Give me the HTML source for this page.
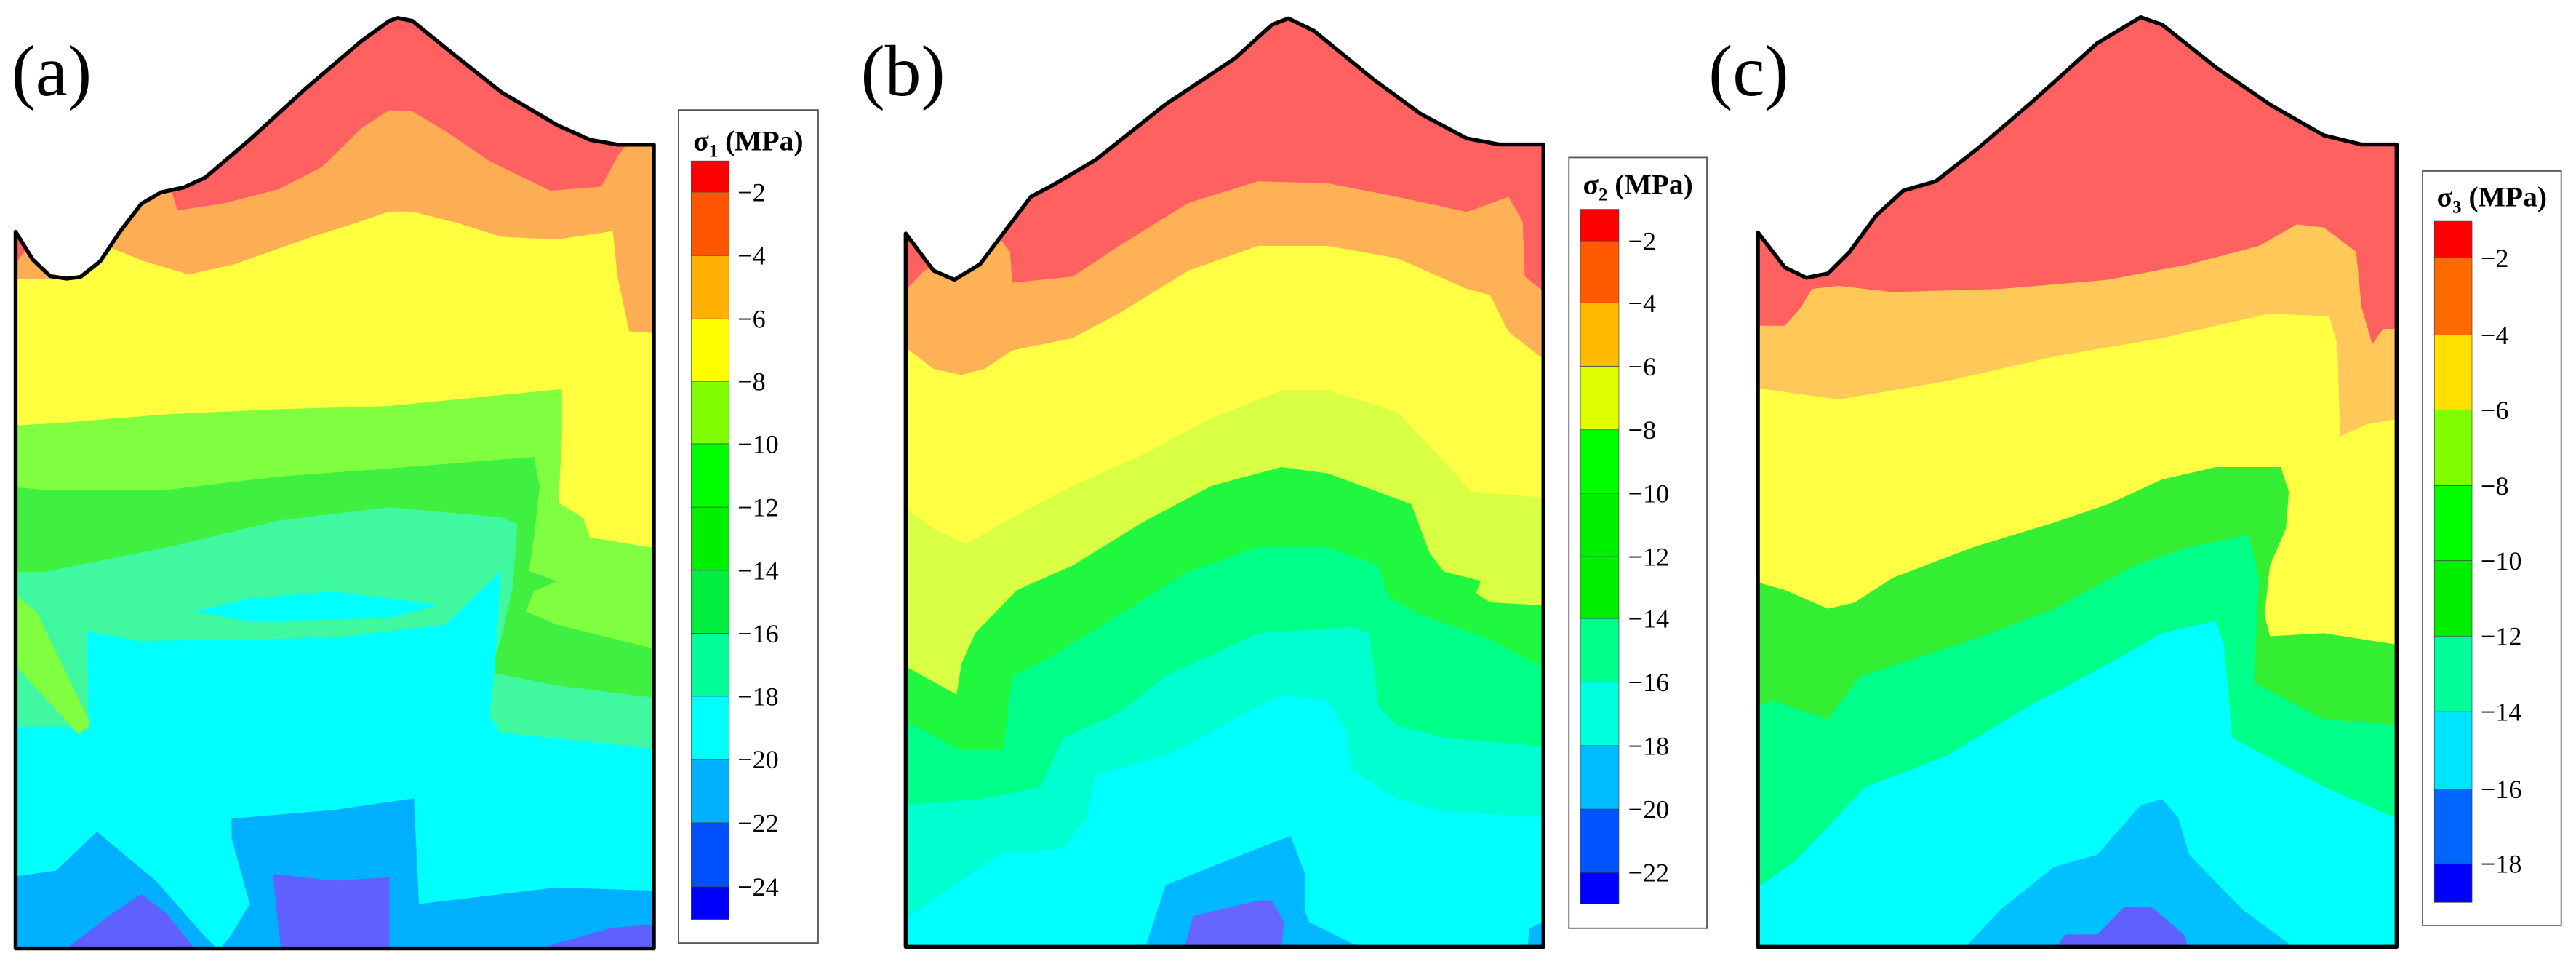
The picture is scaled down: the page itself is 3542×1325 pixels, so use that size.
<!DOCTYPE html>
<html><head><meta charset="utf-8"><style>
html,body{margin:0;padding:0;background:#fff;}
svg{display:block;}
text{font-family:"Liberation Serif",serif;fill:#000;}
</style></head><body>
<svg id="fig" xmlns="http://www.w3.org/2000/svg" width="3542" height="1325" viewBox="0 0 1568 586.5" preserveAspectRatio="none">
<defs id="defs"></defs>
<g id="root"></g>
</svg>
<script>
// ---- legend data ----
const ticksA = [-2,-4,-6,-8,-10,-12,-14,-16,-18,-20,-22,-24];
const ticksB = [-2,-4,-6,-8,-10,-12,-14,-16,-18,-20,-22];
const ticksC = [-2,-4,-6,-8,-10,-12,-14,-16,-18];
const barColorsA = ['#ff0000','#ff5500','#ffb000','#ffff00','#80ff00','#00ff00','#00f000','#00ee40','#00ff99','#00ffff','#00b0ff','#0050ff','#0000ff'];
const barColorsB = ['#ff0000','#ff5a00','#ffbb00','#ddff00','#00ff00','#00f000','#00ee00','#00ff88','#00ffdd','#00bbff','#0055ff','#0000ff'];
const barColorsC = ['#ff0000','#ff6a00','#ffe000','#80ff00','#00ff00','#00ee00','#00ff99','#00e5ff','#0066ff','#0000ff'];

const NS='http://www.w3.org/2000/svg';
const root=document.getElementById('root');
const defs=document.getElementById('defs');
function mk(tag,attrs,parent){const e=document.createElementNS(NS,tag);for(const k in attrs)e.setAttribute(k,attrs[k]);(parent||root).appendChild(e);return e;}
function pts(a){return a.map(p=>p[0].toFixed(1)+','+p[1].toFixed(1)).join(' ');}

// ---- panel geometry (traced contours) ----
const mapB=p=>[540+p[0]*0.2823,p[1]*0.374];
const mapC=p=>[1053.6+p[0]*0.3281,p[1]*0.374];
const panels=[
 {id:'a',L:9.5,R:398,B:577,base:'#ff6060',
  outline:[[9.5,141],[20,158],[30.5,168],[40.6,169.5],[49,168.5],[61,159],[73,141],[86,124],[98,117],[112,114],[125,108],[152,85],[186,54],[220,25],[237,12.7],[242,11],[251,12.7],[271,29],[305,56],[339,76],[359,85],[376,88],[398,88],[398,577],[9.5,577]],
  bands:[
   ['#fdae55',[[5,100],[100,100],[105,118],[108,128],[135,124],[170,115],[196,101.6],[220,78],[237,67],[251,67.8],[271,79.6],[298,98],[335,116],[366,113.5],[376,95],[383,86],[402,86]]],
   ['#ffff40',[[5,170],[47,169],[68,151],[88,159],[115,167],[142,161],[190,144],[217,135.5],[237,128.7],[251,128.7],[278,135.5],[305,144],[339,145.7],[373,140.6],[376,169],[383,201.6],[402,203]]],
   ['#80ff40',[[5,259],[34,257.5],[102,252],[169,249],[237,247],[339,237],[342,237],[342,266],[340,306],[355,315],[359,327],[402,334]]],
   ['#40f040',[[5,296],[27,298],[102,298],[169,290],[237,285],[325,278],[328.5,296],[325,327],[322,347.5],[339,353.6],[325,359.8],[320,372],[339,380],[402,395.6]]],
   ['#40f8a0',[[5,348],[27,348],[102,333],[169,316.8],[237,308.6],[305,314.7],[315,319],[312,357.7],[305,388.4],[298,409],[339,417],[402,425]]],
   ['#00ffff',[[5,442],[40,442],[54,445],[53,384],[85,390],[203,388],[271,380],[305,347.5],[301,409],[298,435.5],[305,445.7],[402,456]]],
   ['#00b0ff',[[5,533.8],[34,529.7],[59,506],[95,536],[125,570],[133,578],[140,570],[152,550],[141,510],[141,498],[203,492.8],[252,485.7],[255,550],[339,539.9],[402,542]]]
  ],
  blobs:[
   ['#80ff40',[[9.5,362],[22,372],[55,440],[48,447],[9.5,405]]],
   ['#00ffff',[[118.5,372],[152,364],[203,359.8],[267.6,368],[237,376],[203,377],[152,378]]],
   ['#6060ff',[[40.6,577],[68,556],[86,544],[101.6,556],[118.5,577]]],
   ['#6060ff',[[166,531.7],[203,535.8],[237,533.8],[237,577],[171,577]]],
   ['#6060ff',[[328.5,577],[372.6,564.5],[398,562.4],[398,577]]],
   ['#ff6060',[[9.5,141],[16,152],[9.5,160]]]
  ]},
 {id:'b',L:551,R:939.5,B:576,base:'#ff6060',
  outline:[[40,380],[100,440],[145,455],[200,430],[260,370],[310,320],[360,300],[450,260],[600,170],[750,95],[830,40],[865,30],[920,50],[1050,130],[1150,185],[1250,225],[1320,235],[1415,235],[1415,1540],[40,1540]].map(mapB),
  bands:[
   ['#ffb155',[[30,480],[80,440],[240,385],[265,410],[270,460],[400,450],[500,400],[650,330],[800,295],[950,298],[1100,320],[1250,345],[1340,320],[1370,360],[1375,450],[1425,480]]],
   ['#ffff44',[[30,560],[100,600],[160,610],[210,600],[270,570],[400,550],[500,510],[650,440],[800,400],[950,400],[1100,420],[1250,470],[1300,480],[1340,540],[1425,590]]],
   ['#d8ff44',[[30,820],[100,860],[170,885],[250,850],[400,790],[550,740],[700,680],[850,635],[950,635],[1100,670],[1200,750],[1260,800],[1425,810]]],
   ['#20f840',[[30,1080],[150,1130],[160,1080],[190,1030],[280,960],[400,920],[550,850],[700,790],[850,760],[950,770],[1130,820],[1170,900],[1200,930],[1280,945],[1270,965],[1300,980],[1425,985]]],
   ['#00ff88',[[30,1170],[160,1220],[250,1220],[270,1100],[350,1070],[500,1000],[650,930],[800,890],[950,890],[1060,920],[1080,970],[1150,1000],[1300,1040],[1425,1090]]],
   ['#00ffd0',[[30,1310],[200,1300],[270,1290],[330,1280],[380,1200],[500,1160],[600,1100],[800,1030],[1000,1020],[1040,1030],[1060,1150],[1100,1180],[1200,1200],[1425,1215]]],
   ['#00ffff',[[30,1500],[240,1390],[380,1380],[430,1330],[450,1260],[600,1230],[750,1170],[850,1130],[950,1140],[990,1190],[1000,1250],[1100,1300],[1200,1320],[1425,1330]]]
  ].map(b=>[b[0],b[1].map(mapB)]),
  blobs:[
   ['#00b8ff',[[555,1545],[600,1440],[700,1410],[800,1380],[870,1360],[900,1420],[900,1480],[910,1500],[1030,1545]]],
   ['#00b8ff',[[1380,1545],[1385,1510],[1415,1500],[1415,1545]]],
   ['#6666ff',[[640,1545],[660,1490],[800,1465],[830,1465],[855,1500],[850,1545]]]
  ].map(b=>[b[0],b[1].map(mapB)])},
 {id:'c',L:1070,R:1458.8,B:576,base:'#ff6060',
  outline:[[50,378],[100,435],[140,452],[180,445],[220,410],[270,350],[320,310],[380,295],[460,240],[560,165],[680,70],[760,28],[800,40],[900,110],[1000,170],[1100,220],[1170,235],[1235,235],[1235,1540],[50,1540]].map(mapC),
  bands:[
   ['#ffc858',[[40,530],[100,530],[130,500],[150,470],[200,465],[300,475],[500,470],[700,455],[850,430],[980,400],[1050,365],[1100,370],[1160,410],[1170,500],[1190,560],[1210,535],[1245,535]]],
   ['#ffff44',[[40,630],[200,650],[400,620],[600,580],[800,550],[1000,510],[1110,515],[1125,560],[1130,710],[1180,690],[1245,680]]],
   ['#33ee33',[[40,945],[100,960],[180,990],[230,980],[300,940],[450,890],[600,850],[700,820],[800,780],[900,760],[1020,760],[1035,800],[1030,860],[1000,920],[990,1000],[1000,1035],[1100,1030],[1245,1050]]],
   ['#00ff88',[[40,1150],[80,1140],[180,1170],[240,1100],[450,1040],[600,990],[750,920],[850,890],[960,870],[980,940],[970,1110],[1100,1170],[1245,1180]]],
   ['#00ffff',[[40,1450],[120,1400],[250,1280],[400,1230],[550,1150],[700,1080],[800,1030],[900,1010],[915,1050],[930,1200],[1100,1280],[1245,1335]]]
  ].map(b=>[b[0],b[1].map(mapC)]),
  blobs:[
   ['#00c0ff',[[430,1545],[500,1480],[600,1410],[680,1390],[760,1310],[800,1300],[830,1330],[850,1390],[950,1480],[1050,1545]]],
   ['#6060ff',[[600,1545],[620,1520],[680,1520],[730,1475],[780,1475],[840,1520],[850,1545]]]
  ].map(b=>[b[0],b[1].map(mapC)])}
];

panels.forEach(P=>{
  const cp=mk('clipPath',{id:'clip-'+P.id},defs);
  mk('polygon',{points:pts(P.outline)},cp);
  const g=mk('g',{'clip-path':'url(#clip-'+P.id+')'});
  
  
  mk('polygon',{points:pts(P.outline),fill:P.base},g);
  P.bands.forEach((b,i)=>{
    const poly=b[1].concat([[P.R+10,P.B+10],[P.L-10,P.B+10]]);
    const e=mk('polygon',{points:pts(poly),fill:b[0]},g);
    
    
  });
  P.blobs.forEach((b,i)=>{
    const e=mk('polygon',{points:pts(b[1]),fill:b[0]},g);
    
    
  });
  const o=mk('polygon',{points:pts(P.outline),fill:'none',stroke:'#000','stroke-width':2.4,'stroke-linejoin':'round','stroke-linecap':'round'});
  
  
});

// ---- legends ----
const legends=[
 {id:'a',sub:'1',box:[413,66.9,498,573.7],bar:[420.7,97.9,443.7,559.3],bounds:[116.9,155.5,194,232,270,308.6,347,385.4,423.6,462,500.6,539.5],ticks:ticksA,colors:barColorsA,titleY:86.4,labelX:449},
 {id:'b',sub:'2',box:[955,95.8,1039,564.7],bar:[962,127.3,985.4,550],bounds:[146.6,184.3,222.9,261.5,300.1,338.7,376.3,415,453.7,492.3,530.8],ticks:ticksB,colors:barColorsB,titleY:113,labelX:991},
 {id:'c',sub:'3',box:[1474.6,104,1559,563],bar:[1481.8,134.6,1504.7,549],bounds:[157,203.8,249.5,295.5,341,387,433,480,525.5],ticks:ticksC,colors:barColorsC,titleY:120.5,labelX:1510}
];
legends.forEach(Lg=>{
  const g=mk('g',{});
  
  
  mk('rect',{x:Lg.box[0],y:Lg.box[1],width:Lg.box[2]-Lg.box[0],height:Lg.box[3]-Lg.box[1],fill:'#fff',stroke:'#555','stroke-width':0.8},g);
  const edges=[Lg.bar[1]].concat(Lg.bounds).concat([Lg.bar[3]]);
  Lg.colors.forEach((c,i)=>{
    const r=mk('rect',{x:Lg.bar[0],y:edges[i],width:Lg.bar[2]-Lg.bar[0],height:edges[i+1]-edges[i],fill:c,stroke:'#444','stroke-width':0.3},g);
    
    
  });
  Lg.ticks.forEach((v,i)=>{
    const t=mk('text',{x:Lg.labelX,y:Lg.bounds[i]+5.5,'font-size':16},g);
    t.textContent=String(v).replace('-','\u2212');
    
    
  });
  const t=mk('text',{x:Lg.box[0]+(Lg.box[2]-Lg.box[0])/2,y:Lg.titleY+5,'font-size':17.5,'font-weight':'bold','text-anchor':'middle'},g);
  
  
  const s1=mk('tspan',{},t);s1.textContent='\u03c3';
  const s2=mk('tspan',{'font-size':11,dy:4},t);s2.textContent=Lg.sub;
  const s3=mk('tspan',{dy:-4},t);s3.textContent=' (MPa)';
});

// ---- panel labels ----
[['(a)',7],['(b)',524],['(c)',1040]].forEach(l=>{
  const t=mk('text',{x:l[1],y:58,'font-size':44},root);
  t.textContent=l[0];
  
  
});
</script>
</body></html>
